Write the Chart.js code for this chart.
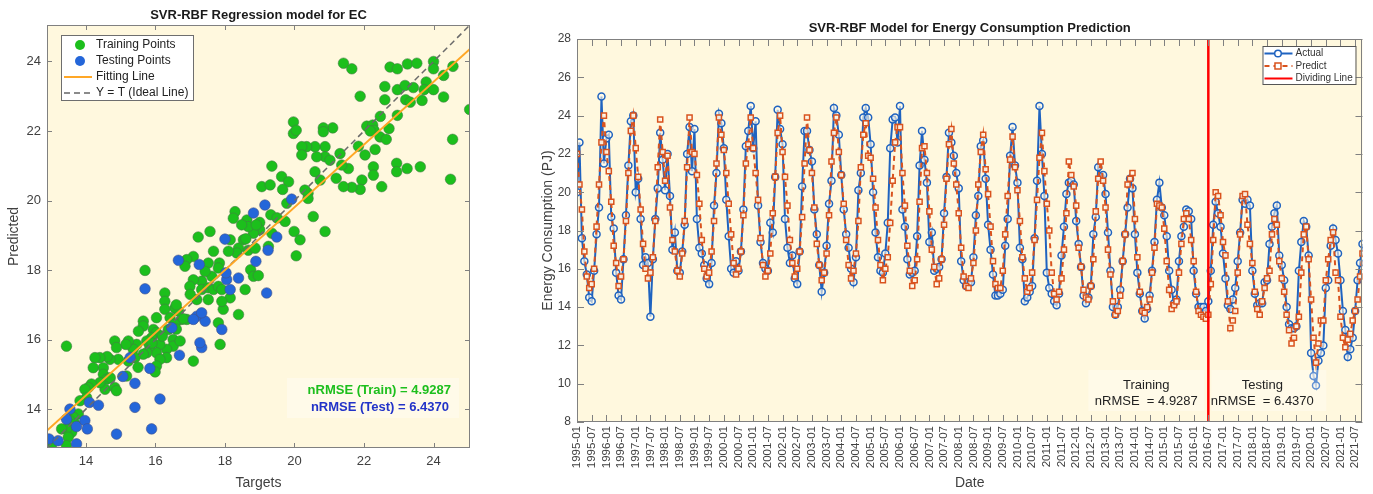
<!DOCTYPE html>
<html>
<head>
<meta charset="utf-8">
<script src="https://cdn.jsdelivr.net/npm/chart.js@4.4.0/dist/chart.umd.min.js"></script>
<style>
  html, body { margin: 0; padding: 0; background: #fff; }
  body { width: 1373px; height: 494px; position: relative; overflow: hidden; }
  canvas { position: absolute; top: 0; }
  #left { left: 0; }
  #right { left: 500px; }
</style>
</head>
<body>
<canvas id="left" width="490" height="494"></canvas>
<canvas id="right" width="873" height="494"></canvas>
<script>
// ---------- left panel: targets vs predicted ----------
const trainPoints = [
  [21.41,23.95],[21.65,23.79],[22.75,23.84],[22.96,23.79],[23.25,23.93],[23.52,23.95],[24.0,24.0],[24.0,23.79],
  [24.56,23.86],[24.29,23.6],[22.6,23.28],[22.96,23.19],[23.18,23.31],[23.42,23.25],[23.79,23.41],[23.73,23.19],
  [24.0,23.19],[24.29,22.98],[23.67,22.88],[23.2,22.9],[23.33,22.83],[22.6,22.9],[21.89,23.0],[22.96,22.45],
  [22.72,22.07],[25.04,22.62],[22.47,22.42],[22.08,22.14],[22.25,22.17],[22.29,22.02],[22.18,22.0],[22.46,21.83],
  [22.64,21.76],[22.32,21.47],[21.84,21.56],[22.03,21.31],[24.55,21.76],[24.49,20.61],[23.62,20.97],[23.24,20.92],
  [22.94,21.07],[22.94,20.83],[22.27,20.97],[22.27,20.73],[22.51,20.4],[21.94,20.59],[21.89,20.32],[21.65,20.38],
  [21.41,20.4],[21.55,20.92],[21.36,21.02],[21.2,20.64],[21.1,22.09],[20.83,22.09],[20.83,21.98],[20.88,21.55],
  [20.88,21.26],[20.64,21.26],[20.59,21.55],[20.35,21.55],[20.21,21.55],[20.21,21.31],[19.97,22.26],[19.97,21.93],
  [20.05,22.02],[21.31,21.35],[21.02,21.16],[20.59,20.83],[20.74,20.59],[20.39,20.21],[20.39,20.06],[20.54,19.54],
  [20.88,19.11],[19.99,19.11],[20.16,18.87],[20.05,18.41],[19.35,20.99],[19.06,20.4],[19.3,20.45],[19.63,20.69],
  [19.83,20.54],[19.66,20.32],[19.78,19.92],[19.73,19.4],[19.32,19.59],[19.35,19.06],[19.0,19.37],[19.0,19.16],
  [19.25,18.68],[18.82,19.06],[18.63,19.44],[18.67,19.25],[18.53,18.87],[18.29,19.68],[18.24,19.49],[18.48,19.3],
  [18.15,18.87],[18.39,18.63],[18.34,18.49],[18.67,18.57],[18.87,18.63],[18.74,18.01],[18.82,17.82],[18.96,17.84],
  [18.1,18.54],[17.67,18.54],[17.84,18.2],[17.81,18.06],[17.52,18.2],[17.62,17.82],[17.23,18.95],[17.57,19.11],
  [17.09,18.39],[16.9,18.3],[16.85,18.11],[17.33,17.68],[17.43,17.96],[17.09,17.72],[16.99,17.53],[17.33,17.44],
  [17.52,17.49],[17.67,17.44],[17.81,17.53],[17.91,17.44],[18.15,17.2],[18.58,17.44],[18.39,16.72],[17.95,16.87],
  [17.81,16.48],[17.86,15.86],[17.91,17.1],[17.52,17.15],[17.19,17.15],[17.09,15.38],[16.9,16.58],[16.75,16.58],
  [16.66,16.82],[16.56,16.91],[16.27,17.34],[16.27,17.1],[16.27,16.87],[16.42,16.63],[16.56,16.44],[16.37,16.29],
  [16.51,16.0],[16.51,15.81],[16.71,15.96],[16.32,15.72],[16.32,15.48],[16.03,16.63],[15.94,16.29],[16.03,16.2],
  [15.89,16.05],[16.13,15.86],[16.03,15.62],[16.13,15.43],[16.03,15.24],[15.99,15.07],[15.84,15.81],[15.75,15.62],
  [15.65,15.58],[15.75,15.96],[15.65,16.53],[15.65,16.39],[15.51,16.24],[15.46,15.86],[15.36,15.72],[15.22,15.96],
  [15.15,15.86],[15.41,15.48],[15.17,14.95],[15.22,15.38],[14.83,15.96],[14.88,15.77],[14.93,15.43],[14.69,15.43],
  [14.61,15.51],[14.5,15.19],[14.4,15.48],[14.26,15.48],[14.21,15.19],[14.5,15.0],[14.6,14.86],[14.55,14.57],
  [14.83,14.62],[14.88,14.53],[14.4,14.76],[14.16,14.72],[14.07,14.62],[13.97,14.57],[14.02,14.33],[13.83,14.24],
  [13.78,13.86],[13.64,13.76],[13.54,13.67],[13.69,13.57],[13.59,13.33],[13.44,13.43],[13.49,13.19],[13.44,12.95],
  [13.3,13.43],[13.01,12.9],[13.44,15.81],[15.7,17.99],[16.8,16.6],[16.6,16.3],[16.2,16.1],[15.9,15.9],
  [16.6,17.0],[17.0,17.3],[15.5,15.2],[14.7,14.9],[18.6,18.9],[18.9,19.3],[19.5,19.5],[20.3,20.3]
];
const testPoints = [
  [12.94,13.14],[13.2,13.09],[13.73,13.0],[13.73,13.5],[13.97,13.67],[14.04,13.43],[14.1,14.19],[14.36,14.11],
  [13.54,14.0],[13.44,13.71],[14.88,13.28],[15.89,13.43],[15.41,14.05],[15.41,14.74],[16.13,14.29],[15.06,14.94],
  [15.27,15.48],[15.84,15.17],[16.69,15.55],[17.33,15.77],[17.28,15.91],[16.47,16.34],[17.19,16.67],[17.43,16.53],
  [17.91,16.29],[17.09,16.58],[17.33,16.77],[15.7,17.46],[16.66,18.28],[17.26,18.16],[18.15,17.44],[18.05,17.73],
  [18.39,17.77],[18.03,17.92],[18.0,18.89],[18.89,18.25],[19.2,17.34],[19.24,18.57],[19.49,18.95],[18.82,19.64],
  [19.15,19.87],[19.92,20.04]
];
const fitLineX = [12.88, 25.05];
const fitLineY = [13.38, 24.36];
const idealLineXY = [12.88, 25.05];
const scatterTicks = [14, 16, 18, 20, 22, 24];
const scatterMin = 12.88, scatterMax = 25.05;

// ---------- right panel: monthly energy consumption (PJ), 1995-01 .. 2021-10 ----------
const actualEC = [
  20.0, 22.6, 17.6, 16.4, 15.7, 14.5, 14.3, 15.9, 17.8, 19.2, 25.0, 21.5, // 1995
  22.8, 23.0, 18.7, 18.1, 15.8, 14.6, 14.4, 16.5, 18.8, 21.4, 23.7, 24.0, // 1996
  20.0, 20.7, 18.6, 16.2, 16.6, 16.3, 13.5, 16.5, 18.6, 20.2, 23.1, 21.7, // 1997
  20.1, 22.0, 19.8, 17.0, 17.9, 15.9, 15.8, 16.9, 18.3, 22.0, 23.4, 21.1, // 1998
  23.3, 18.6, 17.1, 16.8, 16.2, 15.5, 15.2, 16.3, 19.3, 21.0, 24.1, 23.6, // 1999
  22.3, 19.6, 17.7, 16.0, 15.8, 16.4, 15.9, 16.9, 19.1, 22.4, 23.2, 24.5, // 2000
  22.3, 23.7, 19.3, 17.4, 16.3, 16.0, 15.9, 18.4, 17.9, 20.8, 24.3, 23.3, // 2001
  22.5, 18.6, 17.1, 16.3, 16.7, 15.5, 15.2, 16.9, 20.3, 23.2, 23.2, 22.2, // 2002
  21.6, 19.1, 17.8, 16.2, 14.8, 15.8, 17.2, 19.4, 20.6, 24.4, 24.0, 23.0, // 2003
  20.9, 19.1, 17.8, 17.1, 16.0, 15.3, 16.6, 20.1, 21.0, 23.9, 24.4, 23.9, // 2004
  22.5, 20.0, 17.9, 16.6, 15.9, 15.8, 16.8, 18.4, 22.3, 23.8, 23.9, 22.6, // 2005
  24.5, 19.1, 18.2, 16.5, 15.7, 15.8, 15.9, 17.7, 21.4, 23.2, 21.7, 20.5, // 2006
  17.4, 17.9, 15.9, 16.0, 16.1, 16.5, 18.9, 20.8, 23.1, 22.6, 21.9, 21.0, // 2007
  20.2, 16.4, 15.4, 15.1, 15.3, 15.3, 16.6, 18.8, 19.8, 22.4, 22.7, 20.7, // 2008
  18.3, 17.0, 15.7, 14.6, 14.6, 14.7, 14.9, 17.2, 18.6, 21.9, 23.4, 21.4, // 2009
  20.5, 17.1, 16.5, 14.3, 14.5, 14.8, 15.1, 17.6, 20.6, 24.5, 22.0, 19.8, // 2010
  15.8, 15.0, 14.7, 14.3, 14.1, 14.7, 16.7, 18.2, 19.9, 20.5, 20.6, 20.4, // 2011
  18.5, 17.3, 16.1, 14.6, 14.2, 14.5, 15.1, 17.8, 18.7, 21.3, 20.8, 20.9, // 2012
  19.9, 17.9, 15.9, 14.0, 13.6, 14.0, 14.9, 16.4, 17.8, 19.2, 20.7, 20.2, // 2013
  17.8, 15.8, 14.7, 13.8, 13.4, 13.9, 14.6, 15.9, 17.4, 19.6, 20.5, 19.2, // 2014
  18.8, 17.7, 15.9, 14.9, 14.2, 14.4, 16.4, 17.7, 18.2, 19.1, 19.0, 18.6, // 2015
  15.9, 14.7, 14.0, 14.0, 14.0, 13.8, 14.3, 15.9, 18.3, 19.5, 18.9, 18.2, // 2016
  16.8, 15.5, 14.1, 13.9, 14.4, 15.0, 16.4, 17.9, 19.6, 19.4, 19.6, 19.3, // 2017
  15.9, 14.7, 14.1, 14.2, 14.2, 15.3, 15.4, 17.3, 18.2, 18.9, 19.3, 16.7, // 2018
  16.2, 15.4, 14.0, 13.1, 12.9, 12.9, 13.0, 15.9, 17.4, 18.5, 18.2, 16.7, // 2019
  11.6, 10.4, 9.9, 11.2, 11.6, 12.0, 15.0, 15.4, 17.2, 18.1, 17.5, 16.8,  // 2020
  15.4, 13.8, 12.8, 11.4, 11.8, 12.4, 13.8, 15.4, 16.3, 17.3              // 2021
];
const predictEC = [
  22.0, 20.4, 19.1, 16.9, 15.6, 15.0, 15.2, 16.0, 18.2, 20.4, 22.6, 24.0, // 1995
  22.1, 21.1, 19.5, 17.2, 16.3, 15.1, 15.6, 16.5, 18.5, 21.0, 23.2, 24.0, // 1996
  22.3, 20.8, 19.1, 17.3, 16.0, 15.5, 15.8, 16.6, 18.5, 21.3, 23.8, 22.1, // 1997
  20.6, 21.9, 19.2, 17.5, 16.9, 15.9, 15.6, 16.8, 18.5, 21.3, 23.9, 22.1, // 1998
  22.0, 20.9, 19.4, 17.5, 16.0, 15.6, 15.8, 16.9, 18.5, 21.5, 23.9, 23.0, // 1999
  22.2, 21.0, 19.4, 17.8, 16.3, 15.7, 16.0, 16.9, 18.8, 21.5, 22.5, 23.9, // 2000
  22.3, 21.0, 19.6, 17.6, 16.2, 15.6, 15.9, 16.8, 18.9, 20.8, 23.1, 24.0, // 2001
  22.1, 20.8, 19.3, 17.5, 16.3, 15.6, 16.0, 16.9, 18.7, 21.5, 23.9, 22.2, // 2002
  21.0, 19.2, 17.3, 16.2, 15.4, 15.8, 16.8, 18.8, 21.6, 23.1, 23.9, 22.1, // 2003
  20.9, 19.4, 17.5, 16.2, 15.5, 15.9, 16.8, 18.5, 21.3, 23.0, 23.6, 21.9, // 2004
  21.8, 20.7, 19.2, 17.5, 16.2, 15.4, 16.0, 16.6, 18.4, 20.6, 22.6, 23.4, // 2005
  23.4, 21.0, 19.3, 17.2, 15.9, 15.1, 15.4, 16.5, 19.5, 22.3, 22.4, 21.0, // 2006
  19.0, 17.0, 16.1, 15.2, 15.5, 16.5, 18.3, 20.7, 22.5, 23.3, 21.5, 20.4, // 2007
  18.9, 17.1, 15.6, 15.1, 15.0, 15.5, 16.3, 18.0, 20.4, 22.1, 23.0, 21.2, // 2008
  19.9, 18.2, 16.4, 15.2, 15.0, 15.0, 15.9, 17.8, 19.8, 21.7, 22.9, 21.3, // 2009
  20.1, 18.5, 16.6, 15.5, 14.8, 15.0, 15.8, 17.5, 19.6, 21.8, 23.1, 21.1, // 2010
  19.4, 18.0, 15.8, 14.7, 14.4, 14.8, 15.5, 17.0, 18.9, 21.6, 20.9, 20.3, // 2011
  19.3, 17.1, 16.1, 14.9, 14.5, 14.4, 15.1, 16.5, 19.0, 20.7, 21.6, 20.6, // 2012
  19.2, 17.0, 15.7, 14.3, 13.6, 13.8, 14.6, 16.4, 17.8, 20.4, 20.7, 21.0, // 2013
  18.6, 16.6, 14.8, 13.8, 13.7, 14.0, 14.4, 15.8, 17.1, 19.4, 19.3, 19.2, // 2014
  18.1, 16.4, 14.9, 13.9, 14.1, 14.3, 15.8, 17.3, 18.6, 18.9, 18.6, 17.5, // 2015
  16.4, 14.8, 13.8, 13.6, 13.5, 13.4, 13.6, 15.2, 17.5, 20.0, 19.8, 18.8, // 2016
  17.4, 16.7, 14.3, 12.9, 13.3, 13.8, 15.8, 17.8, 19.8, 19.9, 18.3, 17.3, // 2017
  16.3, 14.8, 13.9, 13.6, 14.3, 15.0, 15.5, 15.9, 17.8, 18.6, 18.3, 16.4, // 2018
  15.5, 14.8, 13.6, 12.8, 12.1, 12.4, 13.0, 13.5, 15.8, 17.8, 18.2, 16.5, // 2019
  14.4, 12.4, 11.1, 12.1, 13.3, 13.3, 15.4, 16.5, 17.5, 17.9, 15.8, 15.4, // 2020
  13.5, 12.4, 11.9, 12.3, 12.6, 13.3, 13.8, 14.4, 15.6, 16.8              // 2021
];
const dateTickLabels = [
  '1995-01','1995-07','1996-01','1996-07','1997-01','1997-07','1998-01','1998-07','1999-01','1999-07',
  '2000-01','2000-07','2001-01','2001-07','2002-01','2002-07','2003-01','2003-07','2004-01','2004-07',
  '2005-01','2005-07','2006-01','2006-07','2007-01','2007-07','2008-01','2008-07','2009-01','2009-07',
  '2010-01','2010-07','2011-01','2011-07','2012-01','2012-07','2013-01','2013-07','2014-01','2014-07',
  '2015-01','2015-07','2016-01','2016-07','2017-01','2017-07','2018-01','2018-07','2019-01','2019-07',
  '2020-01','2020-07','2021-01','2021-07'
];
const energyTicks = [8, 10, 12, 14, 16, 18, 20, 22, 24, 26, 28];
const divideIndex = 258; // 2016-07, start of the testing part
const trainRMSE = '4.9287';
const testRMSE = '6.4370';

const FONT = '"Liberation Sans", Arial, Helvetica, sans-serif';
Chart.defaults.font.family = FONT;
Chart.defaults.color = '#404040';
const cream = '#fff8de';

//plot background, box and inward tick marks like the original figure
const frameTicks = {
  id: 'frameTicks',
  beforeDraw(chart) {
    const { ctx, chartArea: a } = chart;
    ctx.save();
    ctx.fillStyle = cream;
    ctx.fillRect(a.left, a.top, a.width, a.height);
    ctx.restore();
  },
  afterDatasetsDraw(chart, args, opts) {
    const { ctx, chartArea: a, scales } = chart;
    const len = opts.len || 5;
    ctx.save();
    ctx.strokeStyle = '#808080';
    ctx.lineWidth = 1;
    ctx.beginPath();
    scales.x.ticks.forEach(t => {
      const px = Math.round(scales.x.getPixelForValue(t.value)) + 0.5;
      ctx.moveTo(px, a.bottom); ctx.lineTo(px, a.bottom - len);
      ctx.moveTo(px, a.top); ctx.lineTo(px, a.top + len);
    });
    scales.y.ticks.forEach(t => {
      const py = Math.round(scales.y.getPixelForValue(t.value)) + 0.5;
      ctx.moveTo(a.left, py); ctx.lineTo(a.left + len, py);
      ctx.moveTo(a.right, py); ctx.lineTo(a.right - len, py);
    });
    ctx.stroke();
    ctx.strokeRect(Math.round(a.left) + 0.5, Math.round(a.top) + 0.5, Math.round(a.width) - 1, Math.round(a.height) - 1);
    ctx.restore();
  }
};

//title centred over the plot area
const plotTitle = {
  id: 'plotTitle',
  afterDraw(chart, args, opts) {
    const { ctx, chartArea: a } = chart;
    ctx.save();
    ctx.font = 'bold 13px ' + FONT;
    ctx.fillStyle = '#1a1a1a';
    ctx.textAlign = 'center';
    ctx.textBaseline = 'middle';
    ctx.fillText(opts.text, (a.left + a.right) / 2, opts.y);
    ctx.restore();
  }
};

//legend and nRMSE text for the scatter panel
const scatterDecor = {
  id: 'scatterDecor',
  afterDraw(chart) {
    const { ctx, chartArea: a } = chart;
    ctx.save();
    const bx = a.left + 14, by = a.top + 10, bw = 132, bh = 65;
    ctx.fillStyle = '#ffffff';
    ctx.fillRect(bx, by, bw, bh);
    ctx.strokeStyle = '#6e6e6e';
    ctx.lineWidth = 1;
    ctx.strokeRect(bx + 0.5, by + 0.5, bw, bh);
    ctx.font = '12px ' + FONT;
    ctx.textBaseline = 'middle';
    ctx.textAlign = 'left';
    const rows = [
      { label: 'Training Points', kind: 'dot', color: '#1cbf1c' },
      { label: 'Testing Points', kind: 'dot', color: '#2466d9' },
      { label: 'Fitting Line', kind: 'line', color: '#ffa726' },
      { label: 'Y = T (Ideal Line)', kind: 'dash', color: '#666666' }
    ];
    rows.forEach((r, i) => {
      const y = by + 10 + i * 16;
      if (r.kind === 'dot') {
        ctx.beginPath();
        ctx.arc(bx + 19, y, 5, 0, Math.PI * 2);
        ctx.fillStyle = r.color;
        ctx.fill();
      } else {
        ctx.beginPath();
        ctx.setLineDash(r.kind === 'dash' ? [6, 4] : []);
        ctx.strokeStyle = r.color;
        ctx.lineWidth = r.kind === 'dash' ? 1.5 : 2;
        ctx.moveTo(bx + 3, y); ctx.lineTo(bx + 31, y);
        ctx.stroke();
        ctx.setLineDash([]);
      }
      ctx.fillStyle = '#222';
      ctx.fillText(r.label, bx + 35, y);
    });
    //nRMSE box
    ctx.fillStyle = 'rgba(255,255,255,0.35)';
    ctx.fillRect(a.right - 183, a.bottom - 70, 172, 40);
    ctx.font = 'bold 13px ' + FONT;
    ctx.textAlign = 'right';
    ctx.fillStyle = '#1dbf1d';
    ctx.fillText('nRMSE (Train) = ' + trainRMSE, a.right - 19, a.bottom - 58);
    ctx.fillStyle = '#2233c8';
    ctx.fillText('nRMSE (Test) = ' + testRMSE, a.right - 21, a.bottom - 41);
    ctx.restore();
  }
};

//legend and Training / Testing text for the time series panel
const seriesDecor = {
  id: 'seriesDecor',
  afterDraw(chart) {
    const { ctx, chartArea: a, scales } = chart;
    ctx.save();
    const d = scales.x.getPixelForValue(divideIndex);
    ctx.fillStyle = 'rgba(255,255,255,0.3)';
    ctx.fillRect(d - 120, 370, 116, 41);
    ctx.fillRect(d + 3, 370, 115, 41);
    ctx.font = '13px ' + FONT;
    ctx.fillStyle = '#222';
    ctx.textAlign = 'center';
    ctx.textBaseline = 'middle';
    ctx.fillText('Training', d - 62, 385);
    ctx.fillText('nRMSE  = ' + trainRMSE, d - 62, 401);
    ctx.fillText('Testing', d + 54, 385);
    ctx.fillText('nRMSE  = ' + testRMSE, d + 54, 401);

    const bx = a.right - 100, by = a.top + 7, bw = 93, bh = 38;
    ctx.fillStyle = '#ffffff';
    ctx.fillRect(bx, by, bw, bh);
    ctx.strokeStyle = '#555';
    ctx.lineWidth = 1;
    ctx.strokeRect(bx + 0.5, by + 0.5, bw, bh);
    ctx.font = '10px ' + FONT;
    ctx.textAlign = 'left';
    const mx = bx + 15.5;
    // Actual
    let y = by + 7.5;
    ctx.strokeStyle = '#1f63c0'; ctx.lineWidth = 2;
    ctx.beginPath(); ctx.moveTo(bx + 2, y); ctx.lineTo(bx + 30, y); ctx.stroke();
    ctx.fillStyle = '#ffffff';
    ctx.beginPath(); ctx.arc(mx, y, 3.3, 0, Math.PI * 2); ctx.fill(); ctx.lineWidth = 1.5; ctx.stroke();
    ctx.fillStyle = '#333'; ctx.fillText('Actual', bx + 33, y);
    // Predict
    y = by + 20;
    ctx.strokeStyle = '#d9531e'; ctx.lineWidth = 2; ctx.setLineDash([5, 4]);
    ctx.beginPath(); ctx.moveTo(bx + 2, y); ctx.lineTo(bx + 30, y); ctx.stroke();
    ctx.setLineDash([]);
    ctx.fillStyle = '#ffffff'; ctx.fillRect(mx - 3, y - 3, 6, 6);
    ctx.lineWidth = 1.5; ctx.strokeRect(mx - 3, y - 3, 6, 6);
    ctx.fillStyle = '#333'; ctx.fillText('Predict', bx + 33, y);
    // Dividing line
    y = by + 32.5;
    ctx.strokeStyle = '#ff0000'; ctx.lineWidth = 2;
    ctx.beginPath(); ctx.moveTo(bx + 2, y); ctx.lineTo(bx + 30, y); ctx.stroke();
    ctx.fillStyle = '#333'; ctx.fillText('Dividing Line', bx + 33, y);
    ctx.restore();
  }
};

const toXY = pts => pts.map(p => ({ x: p[0], y: p[1] }));

//scatter chart of targets against predictions
new Chart(document.getElementById('left'), {
  type: 'scatter',
  data: {
    datasets: [
      {
        label: 'Fitting Line', type: 'line',
        data: fitLineX.map((x, i) => ({ x: x, y: fitLineY[i] })),
        borderColor: '#ffa726', borderWidth: 2, pointRadius: 0, order: 0
      },
      {
        label: 'Y = T (Ideal Line)', type: 'line',
        data: idealLineXY.map(v => ({ x: v, y: v })),
        borderColor: '#6a6a6a', borderDash: [6, 4], borderWidth: 1.5, pointRadius: 0, order: 0
      },
      {
        label: 'Testing Points', data: toXY(testPoints),
        backgroundColor: '#2466d9', borderColor: 'rgba(70,80,130,0.7)', borderWidth: 0.8,
        pointRadius: 5.3, order: 1
      },
      {
        label: 'Training Points', data: toXY(trainPoints),
        backgroundColor: '#1cbf1c', borderColor: 'rgba(70,120,70,0.7)', borderWidth: 0.8,
        pointRadius: 5.3, order: 2
      }
    ]
  },
  options: {
    responsive: false,
    animation: false,
    layout: { padding: { left: 0, right: 20, top: 25, bottom: 0 } },
    plugins: {
      legend: { display: false },
      tooltip: { enabled: false },
      frameTicks: { len: 5 },
      plotTitle: { text: 'SVR-RBF Regression model for EC', y: 15 }
    },
    scales: {
      x: {
        type: 'linear', min: scatterMin, max: scatterMax,
        afterBuildTicks: s => { s.ticks = scatterTicks.map(v => ({ value: v })); },
        afterFit: s => { s.height = 46; },
        grid: { display: false, drawTicks: false },
        border: { display: false },
        ticks: { color: '#404040', font: { size: 13 }, padding: 6 },
        title: { display: true, text: 'Targets', color: '#404040', font: { size: 14 }, padding: { top: 2, bottom: 2 } }
      },
      y: {
        type: 'linear', min: scatterMin, max: scatterMax,
        afterBuildTicks: s => { s.ticks = scatterTicks.map(v => ({ value: v })); },
        afterFit: s => { s.width = 47; },
        grid: { display: false, drawTicks: false },
        border: { display: false },
        ticks: { color: '#404040', font: { size: 13 }, padding: 6 },
        title: { display: true, text: 'Predicted', color: '#404040', font: { size: 14 }, padding: { top: 6, bottom: 2 } }
      }
    }
  },
  plugins: [frameTicks, plotTitle, scatterDecor]
});

//time series of actual vs predicted consumption
new Chart(document.getElementById('right'), {
  type: 'line',
  data: {
    datasets: [
      {
        label: 'Dividing Line',
        data: [{ x: divideIndex, y: 8 }, { x: divideIndex, y: 28 }],
        borderColor: '#ff0000', borderWidth: 2.5, pointRadius: 0, order: -1
      },
      {
        label: 'Predict',
        data: predictEC.map((v, i) => ({ x: i, y: v })),
        borderColor: '#d9531e', borderWidth: 2, borderDash: [5, 4],
        pointStyle: 'rect', pointRadius: 3.6, pointBorderWidth: 1.5,
        pointBorderColor: '#d9531e', pointBackgroundColor: 'rgba(255,250,235,0.9)',
        tension: 0, order: 0
      },
      {
        label: 'Actual',
        data: actualEC.map((v, i) => ({ x: i, y: v })),
        borderColor: '#1f63c0', borderWidth: 2,
        pointStyle: 'circle', pointRadius: 3.5, pointBorderWidth: 1.5,
        pointBorderColor: '#1f63c0', pointBackgroundColor: 'rgba(255,250,235,0.6)',
        tension: 0, order: 1
      }
    ]
  },
  options: {
    responsive: false,
    animation: false,
    layout: { padding: { left: 36, right: 6, top: 39, bottom: 0 } },
    plugins: {
      legend: { display: false },
      tooltip: { enabled: false },
      frameTicks: { len: 7 },
      plotTitle: { text: 'SVR-RBF Model for Energy Consumption Prediction', y: 28 }
    },
    scales: {
      x: {
        type: 'linear', min: 0, max: actualEC.length - 1,
        afterBuildTicks: s => { s.ticks = dateTickLabels.map((_, i) => ({ value: i * 6 })); },
        afterFit: s => { s.height = 72; },
        grid: { display: false, drawTicks: false },
        border: { display: false },
        ticks: {
          autoSkip: false, minRotation: 90, maxRotation: 90, padding: 4,
          color: '#404040', font: { size: 11.5 },
          callback: (v, i) => dateTickLabels[i]
        },
        title: { display: true, text: 'Date', color: '#404040', font: { size: 14 }, padding: { top: 2, bottom: 2 } }
      },
      y: {
        type: 'linear', min: 8, max: 28,
        afterBuildTicks: s => { s.ticks = energyTicks.map(v => ({ value: v })); },
        afterFit: s => { s.width = 41; },
        grid: { display: false, drawTicks: false },
        border: { display: false },
        ticks: { color: '#404040', font: { size: 12 }, padding: 6 },
        title: { display: true, text: 'Energy Consumption (PJ)', color: '#404040', font: { size: 14 }, padding: { top: 4, bottom: 2 } }
      }
    }
  },
  plugins: [frameTicks, plotTitle, seriesDecor]
});
</script>
</body>
</html>
